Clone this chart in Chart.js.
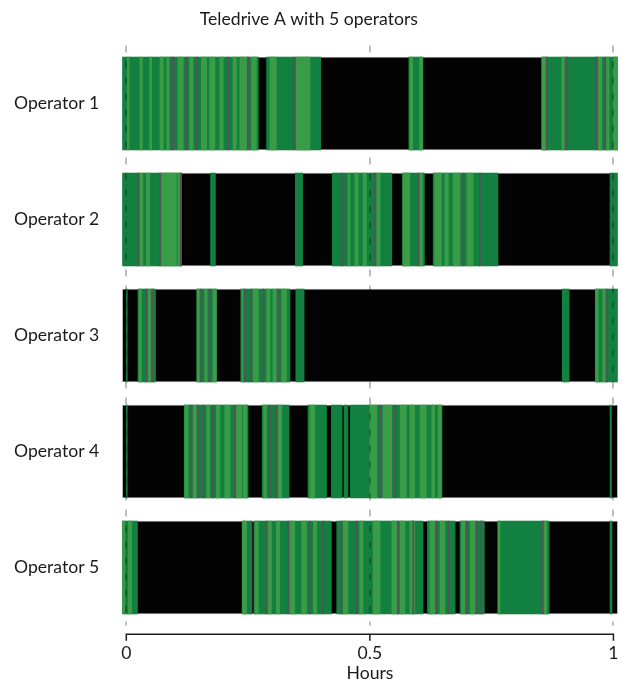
<!DOCTYPE html>
<html>
<head>
<meta charset="utf-8">
<script src="https://cdn.jsdelivr.net/npm/chart.js@4.4.1/dist/chart.umd.min.js"></script>
<style>
  html, body { margin: 0; padding: 0; background: #ffffff; }
  #wrap { width: 622px; height: 679px; }
</style>
</head>
<body>
<div id="wrap"><canvas id="chart" width="622" height="679"></canvas></div>
<script>
// Operators and the recorded session span (hours)
const operators = ['Operator 1', 'Operator 2', 'Operator 3', 'Operator 4', 'Operator 5'];
const sessionSpan = [-0.0082, 1.0088];
const hourTicks = [0, 0.5, 1];

// Active intervals per operator, [start, end] in hours
const activeOp1 = [[-0.0082, 0.271], [0.288, 0.399], [0.580, 0.609], [0.853, 1.0088]];
const activeOp2 = [[-0.0082, 0.113], [0.173, 0.183], [0.347, 0.362], [0.423, 0.545], [0.567, 0.612], [0.630, 0.763], [0.993, 1.0088]];
const activeOp3 = [[0.0, 0.002], [0.024, 0.060], [0.145, 0.185], [0.235, 0.336], [0.348, 0.365], [0.895, 0.909], [0.963, 1.0088]];
const activeOp4 = [[0.0, 0.002], [0.119, 0.250], [0.279, 0.334], [0.373, 0.411], [0.421, 0.443], [0.447, 0.455], [0.460, 0.648], [0.993, 0.996]];
const activeOp5 = [[-0.0082, 0.023], [0.238, 0.257], [0.262, 0.421], [0.432, 0.609], [0.618, 0.675], [0.685, 0.735], [0.763, 0.868], [0.993, 0.997]];

// Short bursts of the secondary mode inside the active intervals
const burstOp1 = [[0.002, 0.006], [0.028, 0.033], [0.048, 0.052], [0.069, 0.076], [0.083, 0.088], [0.106, 0.117], [0.130, 0.137], [0.154, 0.165], [0.171, 0.182], [0.192, 0.199], [0.219, 0.226], [0.233, 0.247], [0.257, 0.267], [0.295, 0.308], [0.349, 0.377], [0.582, 0.588], [0.602, 0.608], [0.853, 0.862], [0.894, 0.899], [0.969, 0.976], [0.986, 0.991], [1.0, 1.0088]];
const burstOp2 = [[0.028, 0.034], [0.041, 0.048], [0.072, 0.103], [0.106, 0.112], [0.455, 0.459], [0.469, 0.476], [0.486, 0.493], [0.514, 0.521], [0.568, 0.582], [0.603, 0.608], [0.633, 0.647], [0.654, 0.661], [0.671, 0.685], [0.699, 0.712]];
const burstOp3 = [[0.026, 0.031], [0.045, 0.050], [0.145, 0.150], [0.161, 0.166], [0.178, 0.185], [0.237, 0.240], [0.260, 0.271], [0.288, 0.295], [0.301, 0.308], [0.319, 0.329], [0.963, 0.969], [0.978, 0.983]];
const burstOp4 = [[0.120, 0.127], [0.137, 0.144], [0.165, 0.171], [0.185, 0.192], [0.202, 0.213], [0.226, 0.237], [0.240, 0.247], [0.282, 0.288], [0.312, 0.319], [0.377, 0.387], [0.500, 0.514], [0.527, 0.545], [0.562, 0.575], [0.582, 0.592], [0.603, 0.616], [0.627, 0.633], [0.640, 0.647]];
const burstOp5 = [[-0.0082, -0.003], [0.004, 0.011], [0.238, 0.247], [0.264, 0.271], [0.291, 0.298], [0.308, 0.315], [0.336, 0.346], [0.360, 0.370], [0.384, 0.391], [0.445, 0.455], [0.479, 0.486], [0.507, 0.521], [0.545, 0.555], [0.562, 0.572], [0.582, 0.592], [0.623, 0.633], [0.644, 0.654], [0.688, 0.695], [0.706, 0.716], [0.763, 0.767], [0.856, 0.863]];

// Mode-switch events (hours)
const switchOp1 = [0.093, 0.0975, 0.124, 0.145, 0.209, 0.250, 0.344, 0.863, 0.904, 0.965, 0.983];
const switchOp2 = [0.024, 0.069, 0.112, 0.443, 0.510, 0.599, 0.692, 0.726];
const switchOp3 = [0.041, 0.054, 0.154, 0.171, 0.243, 0.257, 0.281, 0.312, 0.987];
const switchOp4 = [0.134, 0.147, 0.158, 0.178, 0.223, 0.295, 0.308, 0.522, 0.551];
const switchOp5 = [0.257, 0.288, 0.332, 0.377, 0.404, 0.442, 0.473, 0.558, 0.589, 0.637, 0.661, 0.699, 0.719, 0.729, 0.855];

const activeAll = [activeOp1, activeOp2, activeOp3, activeOp4, activeOp5];
const burstAll = [burstOp1, burstOp2, burstOp3, burstOp4, burstOp5];
const switchAll = [switchOp1, switchOp2, switchOp3, switchOp4, switchOp5];

const SWITCH_HALF = 0.0012; // event mark half-width, hours

function toRows(perOperator) {
  const rows = [];
  perOperator.forEach((list, i) => list.forEach(seg => rows.push({ y: operators[i], x: seg })));
  return rows;
}
function eventRows(perOperator) {
  const rows = [];
  perOperator.forEach((list, i) => list.forEach(t => rows.push({ y: operators[i], x: [t - SWITCH_HALF, t + SWITCH_HALF] })));
  return rows;
}

const FONT = 'Lato, "Open Sans", sans-serif';
const FONT_SIZE = 17.6;
const BAND = 93;

// Dashed hour guides (multiplied over the bands) and the hour axis line
const hourAxis = {
  id: 'hourAxis',
  afterDatasetsDraw(chart) {
    const { ctx, chartArea, scales: { x } } = chart;
    ctx.save();
    ctx.globalCompositeOperation = 'multiply';
    ctx.strokeStyle = '#bdbdbd';
    ctx.lineWidth = 2;
    ctx.setLineDash([7, 9]);
    hourTicks.forEach(v => {
      const px = Math.round(x.getPixelForValue(v));
      ctx.beginPath();
      ctx.moveTo(px, chartArea.top);
      ctx.lineTo(px, chartArea.bottom);
      ctx.stroke();
    });
    ctx.restore();
  },
  afterDraw(chart) {
    const { ctx, chartArea, scales: { x } } = chart;
    const y = Math.round(chartArea.bottom + 8.5) + 0.25;
    const x0 = x.getPixelForValue(hourTicks[0]);
    const x1 = x.getPixelForValue(hourTicks[hourTicks.length - 1]);
    ctx.save();
    ctx.strokeStyle = '#1e1e1e';
    ctx.lineWidth = 1.5;
    ctx.beginPath();
    ctx.moveTo(x0, y);
    ctx.lineTo(x1, y);
    hourTicks.forEach(v => {
      const px = x.getPixelForValue(v);
      ctx.moveTo(px, y - 0.75);
      ctx.lineTo(px, y + 6.5);
    });
    ctx.stroke();
    ctx.restore();
  }
};

new Chart(document.getElementById('chart'), {
  type: 'bar',
  data: {
    labels: operators,
    datasets: [
      {
        label: 'session',
        data: operators.map(op => ({ y: op, x: sessionSpan })),
        backgroundColor: '#030303',
        borderColor: '#9c9c9c',
        borderWidth: 1,
        borderSkipped: false,
        order: 4
      },
      {
        label: 'active',
        data: toRows(activeAll),
        backgroundColor: '#12813f',
        borderWidth: 0,
        order: 3
      },
      {
        label: 'burst',
        data: toRows(burstAll),
        backgroundColor: '#3a9c46',
        borderWidth: 0,
        order: 2
      },
      {
        label: 'switch',
        data: eventRows(switchAll),
        backgroundColor: '#55535a',
        borderWidth: 0,
        order: 1
      }
    ]
  },
  options: {
    indexAxis: 'y',
    responsive: false,
    animation: false,
    layout: { padding: { left: 0, right: 4.3, top: 0, bottom: 0 } },
    plugins: {
      legend: { display: false },
      tooltip: { enabled: false },
      title: {
        display: true,
        text: 'Teledrive A with 5 operators',
        color: '#1a1a1a',
        font: { family: FONT, size: FONT_SIZE, weight: 'normal', lineHeight: '20px' },
        padding: { top: 9, bottom: 16.5 }
      }
    },
    datasets: { bar: { grouped: false, barThickness: BAND } },
    scales: {
      x: {
        type: 'linear',
        min: sessionSpan[0],
        max: sessionSpan[1],
        afterBuildTicks(scale) { scale.ticks = hourTicks.map(v => ({ value: v })); },
        afterFit(scale) { scale.height = 53.5; scale.paddingLeft = 0; scale.paddingRight = 0; },
        grid: { display: false, drawTicks: false },
        border: { display: false },
        ticks: {
          padding: 17.5,
          color: '#1a1a1a',
          font: { family: FONT, size: FONT_SIZE },
          maxRotation: 0,
          autoSkip: false,
          callback: v => String(v)
        },
        title: {
          display: true,
          text: 'Hours',
          color: '#1a1a1a',
          font: { family: FONT, size: FONT_SIZE, lineHeight: '12px' },
          padding: { top: 0, bottom: 0 }
        }
      },
      y: {
        type: 'category',
        afterFit(scale) { scale.width = 122.3; },
        grid: { display: false, drawTicks: false },
        border: { display: false },
        ticks: {
          padding: 23,
          color: '#1a1a1a',
          font: { family: FONT, size: FONT_SIZE }
        }
      }
    }
  },
  plugins: [hourAxis]
});
</script>
</body>
</html>
